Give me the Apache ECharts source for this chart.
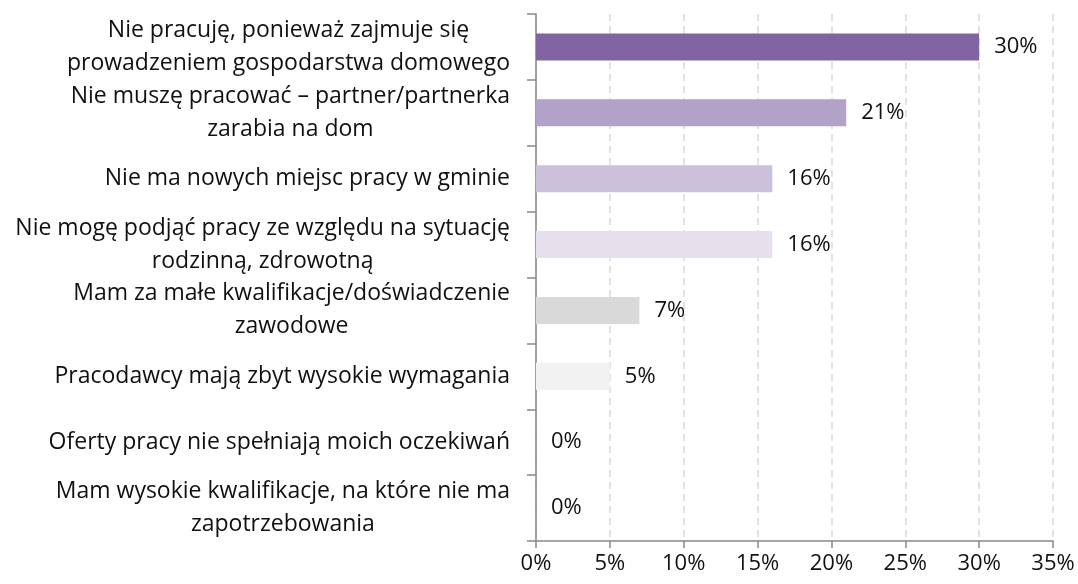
<!DOCTYPE html>
<html>
<head>
<meta charset="utf-8">
<script src="https://cdn.jsdelivr.net/npm/echarts@6/dist/echarts.min.js"></script>
<style>
  html, body { margin: 0; padding: 0; background: #fff; }
  #chart { width: 1078px; height: 584px; }
</style>
</head>
<body>
<div id="chart"></div>
<script>
// kategorie (od góry)
const categories = [
    'Nie pracuję, ponieważ zajmuje się\nprowadzeniem gospodarstwa domowego',
    'Nie muszę pracować – partner/partnerka\nzarabia na dom',
    'Nie ma nowych miejsc pracy w gminie',
    'Nie mogę podjąć pracy ze względu na sytuację\nrodzinną, zdrowotną',
    'Mam za małe kwalifikacje/doświadczenie\nzawodowe',
    'Pracodawcy mają zbyt wysokie wymagania',
    'Oferty pracy nie spełniają moich oczekiwań',
    'Mam wysokie kwalifikacje, na które nie ma\nzapotrzebowania'
];
const values = [30, 21, 16, 16, 7, 5, 0, 0];
const barColors = ['#8064A2', '#B3A2C7', '#CCC1DA', '#E6E0EC', '#D9D9D9', '#F2F2F2', '#F2F2F2', '#F2F2F2'];
const xTicks = [0, 5, 10, 15, 20, 25, 30, 35];

const font = 'Open Sans';
const myChart = echarts.init(document.getElementById('chart'));

const option = {
    animation: false,
    grid: { left: 536, right: 25, top: 14, bottom: 43 },
    xAxis: {
        type: 'value',
        min: xTicks[0],
        max: xTicks[xTicks.length - 1],
        interval: 5,
        axisLine: { show: true, lineStyle: { color: '#898989', width: 1.5 } },
        axisTick: { show: true, length: 7, lineStyle: { color: '#898989', width: 1.5 } },
        axisLabel: {
            formatter: '{value}%',
            color: '#111',
            fontFamily: font,
            fontSize: 22,
            margin: 12
        },
        splitLine: { show: true, lineStyle: { color: '#D9D9D9', width: 1.5, type: [7, 5] } }
    },
    yAxis: {
        type: 'category',
        inverse: true,
        data: categories,
        axisLine: { show: true, lineStyle: { color: '#898989', width: 1.5 } },
        axisTick: { show: true, length: 9, lineStyle: { color: '#898989', width: 1.5 } },
        axisLabel: {
            margin: 26,
            color: '#111',
            formatter: v => v.split('\n').map(s => '{c|' + s + '}').join('\n'),
            rich: {
                c: { align: 'center', fontFamily: font, fontSize: 23, lineHeight: 33, color: '#111' }
            }
        },
        splitLine: { show: false }
    },
    series: [{
        type: 'bar',
        data: values.map((v, i) => ({ value: v, itemStyle: { color: barColors[i] } })),
        barWidth: 27,
        label: {
            show: true,
            position: 'right',
            distance: 15,
            formatter: '{c}%',
            color: '#111',
            fontFamily: font,
            fontSize: 22
        }
    }]
};

myChart.setOption(option);
</script>
</body>
</html>
